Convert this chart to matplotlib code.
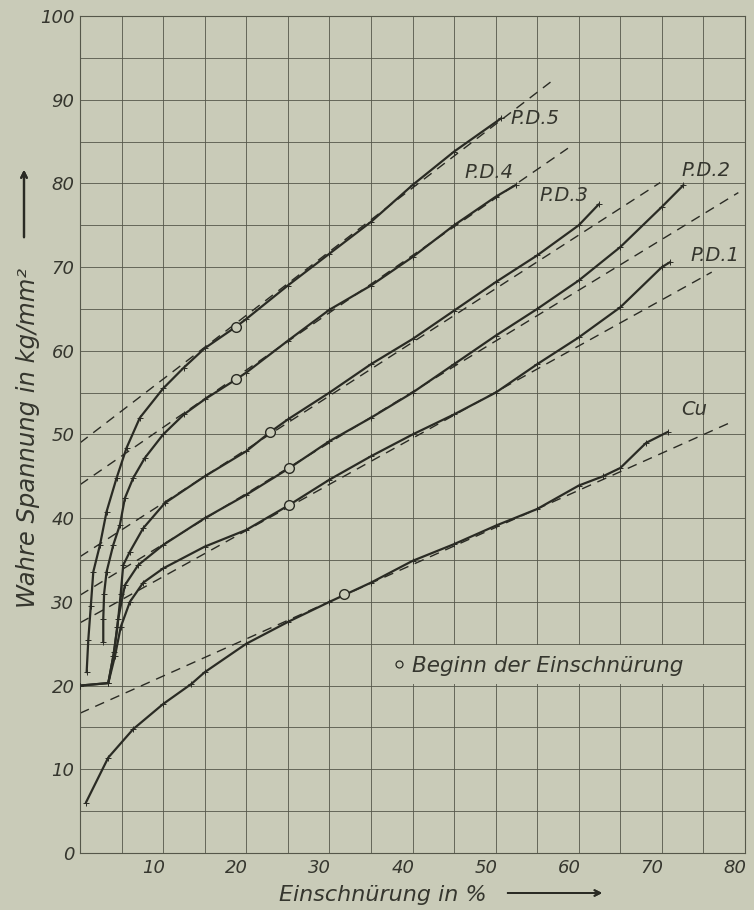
import numpy as np
import matplotlib.pyplot as plt
import matplotlib.transforms as mtransforms
from matplotlib.lines import Line2D
from matplotlib.patches import Rectangle

plt.rcParams['font.family'] = ['DejaVu Sans']
plt.rcParams['font.style'] = 'italic'

# curves (Einschnuerung %, wahre Spannung kg/mm2)
pd5_x = [0.8, 1.0, 1.3, 1.6, 2.4, 3.2, 4.4, 5.6, 7.2, 10.0, 12.5, 15.0, 18.8, 20.0, 25.0, 30.0, 35.0, 40.0, 45.0, 50.7]
pd5_y = [21.6, 25.5, 29.5, 33.6, 36.8, 40.8, 44.8, 48.4, 52.0, 55.5, 58.0, 60.3, 62.9, 63.8, 67.8, 71.6, 75.4, 79.8, 83.8, 87.8]

pd4_x = [2.8, 2.8, 2.9, 3.2, 4.0, 4.8, 5.4, 6.4, 7.8, 10.0, 12.5, 15.0, 18.8, 20.0, 25.0, 30.0, 35.0, 40.0, 45.0, 50.0, 52.4]
pd4_y = [25.2, 28.0, 31.0, 33.6, 36.8, 39.2, 42.4, 44.8, 47.2, 50.0, 52.4, 54.2, 56.6, 57.4, 61.2, 64.9, 67.8, 71.2, 75.0, 78.4, 79.8]

pd3_x = [3.4, 4.0, 4.5, 4.9, 5.2, 6.0, 7.6, 10.2, 15.0, 20.0, 22.9, 25.0, 30.0, 35.0, 40.0, 45.0, 50.0, 55.0, 60.0, 62.4]
pd3_y = [20.3, 23.5, 27.0, 31.0, 34.4, 36.0, 38.8, 41.8, 45.0, 48.0, 50.3, 51.8, 55.0, 58.4, 61.4, 64.8, 68.2, 71.4, 75.0, 77.5]

pd2_x = [0.0, 3.4, 4.1, 4.6, 5.4, 7.0, 10.0, 15.0, 20.0, 25.2, 30.0, 35.0, 40.0, 45.0, 50.0, 55.0, 60.0, 65.0, 70.0, 72.6]
pd2_y = [20.0, 20.3, 24.0, 28.0, 32.0, 34.4, 36.8, 40.0, 42.8, 46.0, 49.2, 52.0, 55.0, 58.4, 61.8, 65.0, 68.4, 72.4, 77.2, 79.8]

pd1_x = [0.0, 3.4, 4.2, 4.9, 6.0, 7.6, 10.0, 15.0, 20.0, 25.2, 30.0, 35.0, 40.0, 45.0, 50.0, 55.0, 60.0, 65.0, 70.0, 71.0]
pd1_y = [20.0, 20.3, 23.5, 27.0, 30.0, 32.3, 34.0, 36.6, 38.6, 41.6, 44.6, 47.4, 50.0, 52.4, 55.0, 58.4, 61.6, 65.2, 70.0, 70.6]

cu_x = [0.7, 3.4, 6.4, 10.0, 13.4, 15.0, 20.0, 25.0, 30.0, 35.0, 40.0, 45.0, 50.0, 55.0, 60.0, 62.9, 65.0, 68.1, 70.7]
cu_y = [6.0, 11.4, 14.8, 17.8, 20.2, 21.6, 25.0, 27.6, 30.0, 32.3, 34.9, 36.9, 39.1, 41.1, 43.9, 45.0, 46.0, 49.0, 50.3]

# dashed straight lines: (x0, y0, x1, y1)
dash_pd5 = [0.0, 49.0, 56.6, 92.1]
dash_pd4 = [0.0, 44.0, 58.7, 84.2]
dash_pd3 = [0.0, 35.4, 69.8, 80.1]
dash_pd2 = [0.0, 30.8, 79.2, 78.9]
dash_pd1 = [0.0, 27.5, 76.0, 69.4]
dash_cu = [0.0, 16.7, 78.4, 51.5]

# Beginn der Einschnuerung
neck_x = [18.8, 18.8, 22.9, 25.2, 25.2, 31.8]
neck_y = [62.9, 56.6, 50.3, 46.0, 41.6, 30.9]

names = ['P.D.5', 'P.D.4', 'P.D.3', 'P.D.2', 'P.D.1', 'Cu']
label_x = [51.8, 46.3, 55.3, 72.4, 73.4, 72.3]
label_y = [87.7, 81.3, 78.6, 81.6, 71.4, 53.0]

bg = '#c9cbb8'
ink = '#2a2b24'
grid_c = '#55574a'
txt = '#35362e'

fig = plt.figure(figsize=(7.54, 9.10), dpi=100, facecolor=bg)
ax = fig.add_axes([80 / 754, 1 - 853 / 910, 665 / 754, 837 / 910])
ax.set_facecolor(bg)
ax.set_xlim(0, 80)
ax.set_ylim(0, 100)

ax.set_xticks(np.arange(10, 81, 10))
ax.set_xticks(np.arange(0, 81, 5), minor=True)
ax.set_yticks(np.arange(0, 101, 10))
ax.set_yticks(np.arange(0, 101, 5), minor=True)
ax.tick_params(which='both', length=0, labelsize=13, labelcolor=txt)
ax.tick_params(axis='x', pad=4)
ax.tick_params(axis='y', pad=4)
# x labels sit a little left of their grid line in the original
shift = mtransforms.ScaledTranslation(-7 / 72, 0, fig.dpi_scale_trans)
for lab in ax.get_xticklabels():
    lab.set_transform(lab.get_transform() + shift)
ax.set_axisbelow(True)
ax.grid(which='both', color=grid_c, lw=0.6)
for s in ax.spines.values():
    s.set_color(grid_c)
    s.set_linewidth(0.8)

# blank band behind the legend text
ax.add_patch(Rectangle((35.15, 20.15), 44.7, 4.7, facecolor=bg, edgecolor='none', zorder=1))

curves = [(pd5_x, pd5_y), (pd4_x, pd4_y), (pd3_x, pd3_y), (pd2_x, pd2_y), (pd1_x, pd1_y), (cu_x, cu_y)]
dashes = [dash_pd5, dash_pd4, dash_pd3, dash_pd2, dash_pd1, dash_cu]

for (cx, cy), d in zip(curves, dashes):
    ax.plot([d[0], d[2]], [d[1], d[3]], color=ink, lw=1.0, ls=(0, (7, 5)), zorder=2)
    ax.plot(cx, cy, color=ink, lw=1.6, marker='+', ms=4, mew=0.7, zorder=3,
            solid_joinstyle='round', solid_capstyle='round')

ax.plot(neck_x, neck_y, ls='', marker='o', ms=7, mfc=bg, mec=ink, mew=1.0, zorder=4)

for n, lx, ly in zip(names, label_x, label_y):
    ax.text(lx, ly, n, fontsize=14, color=txt, ha='left', va='center')

handle = Line2D([], [], ls='', marker='o', ms=5, mfc=bg, mec=ink, mew=0.9)
ax.legend([handle], ['Beginn der Einschnürung'], loc='center left',
          bbox_to_anchor=(36.3 / 80, 22.4 / 100), frameon=False, fontsize=15.5,
          handletextpad=0.2, handlelength=0.8, borderaxespad=0, labelcolor=txt)

# axis titles with arrows
fig.text(383 / 754, 1 - 895 / 910, 'Einschnürung in %', fontsize=16, color=txt,
         ha='center', va='center')
fig.add_artist(plt.annotate('', xy=(605 / 754, 1 - 893 / 910), xytext=(505 / 754, 1 - 893 / 910),
                            xycoords='figure fraction',
                            arrowprops=dict(arrowstyle='->', color=ink, lw=1.4)))
fig.text(28 / 754, 1 - 438 / 910, 'Wahre Spannung in kg/mm²', fontsize=17.5, color=txt,
         rotation=90, ha='center', va='center')
fig.add_artist(plt.annotate('', xy=(24 / 754, 1 - 167 / 910), xytext=(24 / 754, 1 - 240 / 910),
                            xycoords='figure fraction',
                            arrowprops=dict(arrowstyle='->', color=ink, lw=1.6)))

fig.savefig('out.png', dpi=100, facecolor=bg)
